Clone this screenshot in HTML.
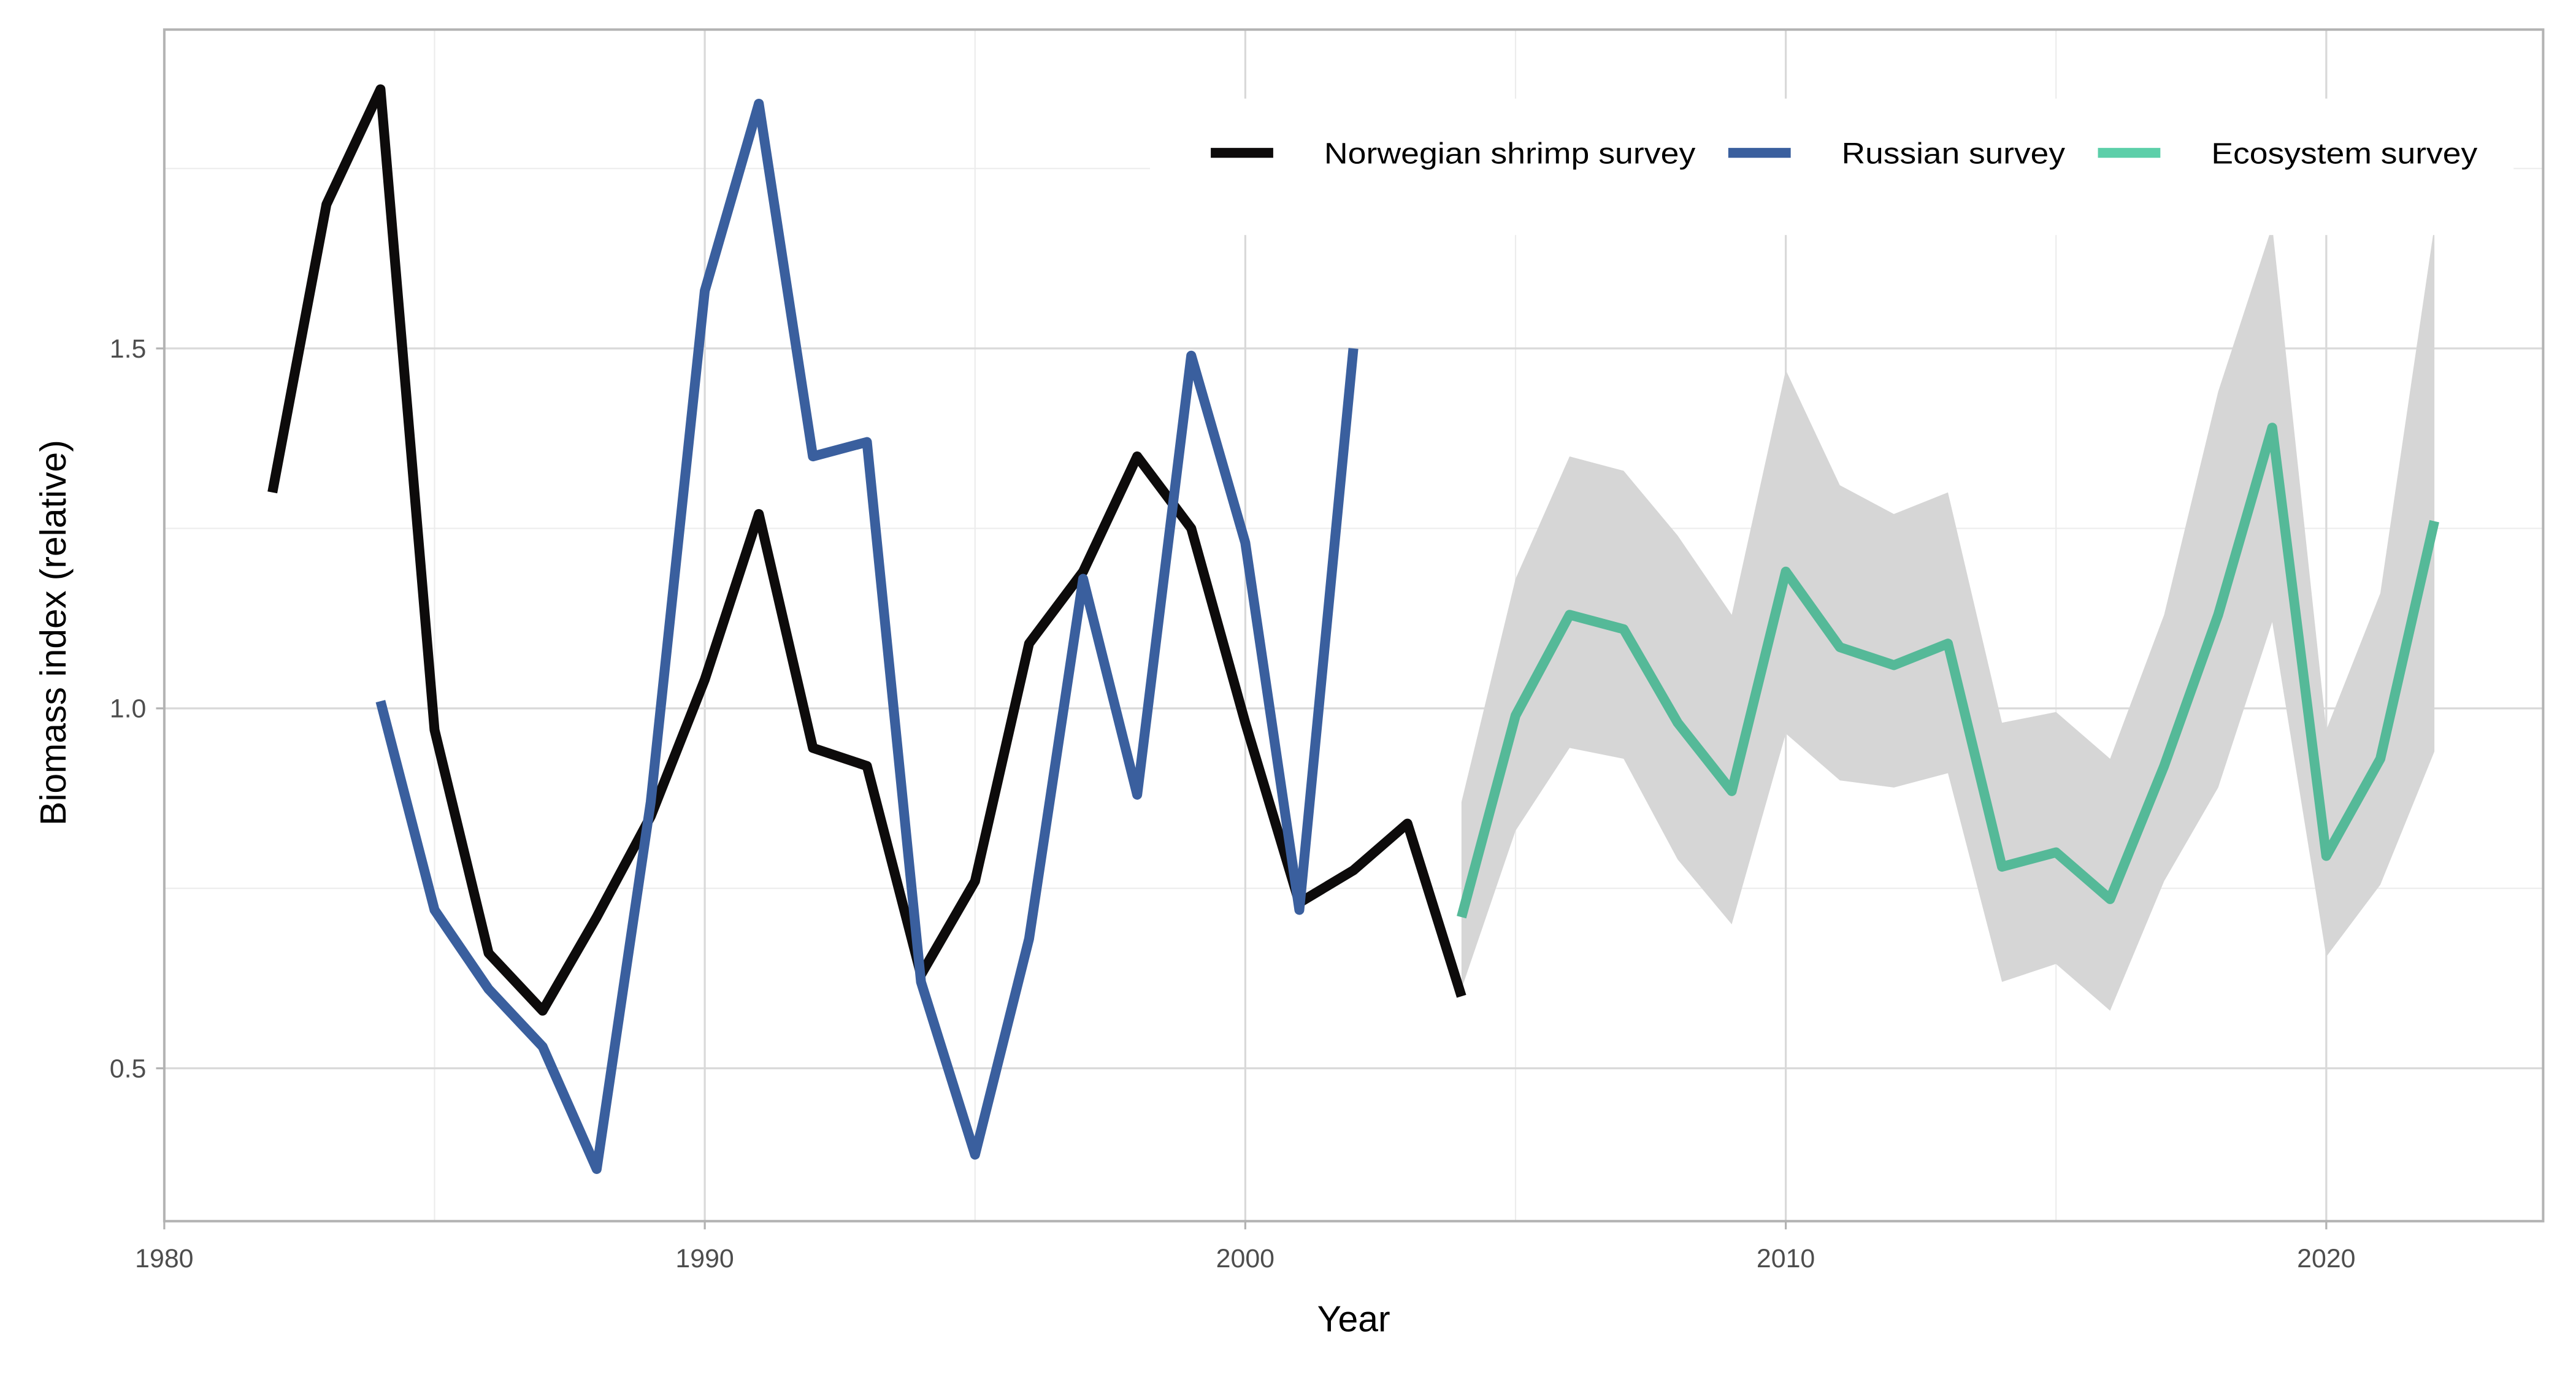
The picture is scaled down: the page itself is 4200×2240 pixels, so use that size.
<!DOCTYPE html>
<html><head><meta charset="utf-8">
<style>html,body{margin:0;padding:0;background:#fff;}svg{display:block;}</style>
</head><body>
<svg id="s" width="4200" height="2240" viewBox="0 0 1568 836" preserveAspectRatio="none" xmlns="http://www.w3.org/2000/svg" font-family="Liberation Sans, Arial, sans-serif"></svg>
<script>
const X=y=>100+(y-1980)*32.9, Y=v=>431-(v-1)*438;
let h='';
[1985,1995,2005,2015].forEach(y=>h+=`<line x1="${X(y)}" x2="${X(y)}" y1="18" y2="743" stroke="#ececec" stroke-width="0.8"/>`);
[0.75,1.25,1.75].forEach(v=>h+=`<line x1="100" x2="1548" y1="${Y(v)}" y2="${Y(v)}" stroke="#ececec" stroke-width="0.8"/>`);
[1980,1990,2000,2010,2020].forEach(y=>h+=`<line x1="${X(y)}" x2="${X(y)}" y1="18" y2="743" stroke="#d9d9d9" stroke-width="1.2"/>`);
[0.5,1,1.5].forEach(v=>h+=`<line x1="100" x2="1548" y1="${Y(v)}" y2="${Y(v)}" stroke="#d9d9d9" stroke-width="1.2"/>`);
const up=[0.87,1.18,1.35,1.33,1.24,1.13,1.47,1.31,1.27,1.30,0.98,0.995,0.93,1.13,1.44,1.67,0.97,1.16,1.67];
const lo=[0.61,0.83,0.945,0.93,0.79,0.70,0.965,0.90,0.89,0.91,0.62,0.645,0.58,0.76,0.89,1.12,0.655,0.755,0.94];
let pts=up.map((v,i)=>X(2004+i)+','+Y(v));
for(let i=lo.length-1;i>=0;i--)pts.push(X(2004+i)+','+Y(lo[i]));
h+=`<polygon points="${pts.join(' ')}" fill="#d6d6d6"/>`;
function line(start,arr,col){return `<polyline fill="none" stroke="${col}" stroke-width="6" stroke-linejoin="round" points="${arr.map((v,i)=>X(start+i)+','+Y(v)).join(' ')}"/>`;}
h+=line(1982,[1.30,1.70,1.86,0.97,0.66,0.58,0.71,0.85,1.04,1.27,0.945,0.92,0.63,0.76,1.09,1.19,1.35,1.25,0.98,0.73,0.775,0.84,0.60],'#0d0b0b');
h+=line(1984,[1.01,0.72,0.61,0.53,0.36,0.87,1.58,1.84,1.35,1.37,0.62,0.38,0.68,1.18,0.88,1.49,1.23,0.72,1.50],'#3a5f9e');
h+=line(2004,[0.71,0.99,1.13,1.11,0.98,0.885,1.19,1.085,1.06,1.09,0.78,0.80,0.735,0.92,1.13,1.39,0.795,0.93,1.26],'#55b998');
h+=`<rect x="700" y="60" width="830" height="83" fill="#fff"/>`;
const L=[[737,'#0d0b0b','Norwegian shrimp survey',806,226],[1052,'#3a5f9e','Russian survey',1121,136],[1277,'#5ccfa9','Ecosystem survey',1346,162]];
L.forEach(l=>{h+=`<line x1="${l[0]}" x2="${l[0]+38}" y1="93" y2="93" stroke="${l[1]}" stroke-width="6"/><text x="${l[3]}" y="99.5" font-size="18" textLength="${l[4]}" lengthAdjust="spacingAndGlyphs" fill="#000">${l[2]}</text>`});
h+=`<rect x="100" y="18" width="1448" height="725" fill="none" stroke="#b3b3b3" stroke-width="1.5"/>`;
[1980,1990,2000,2010,2020].forEach(y=>h+=`<line x1="${X(y)}" x2="${X(y)}" y1="743" y2="748" stroke="#b3b3b3" stroke-width="1.2"/><text x="${X(y)}" y="771" font-size="16" fill="#4d4d4d" text-anchor="middle">${y}</text>`);
[[0.5,'0.5'],[1,'1.0'],[1.5,'1.5']].forEach(v=>h+=`<line x1="95" x2="100" y1="${Y(v[0])}" y2="${Y(v[0])}" stroke="#b3b3b3" stroke-width="1.2"/><text x="89" y="${Y(v[0])+5.5}" font-size="16" fill="#4d4d4d" text-anchor="end">${v[1]}</text>`);
h+=`<text x="824" y="810" font-size="22" text-anchor="middle" fill="#000">Year</text>`;
h+=`<text transform="translate(40,385) rotate(-90)" font-size="22" text-anchor="middle" fill="#000">Biomass index (relative)</text>`;
document.getElementById('s').innerHTML=h;
</script>
</body></html>
